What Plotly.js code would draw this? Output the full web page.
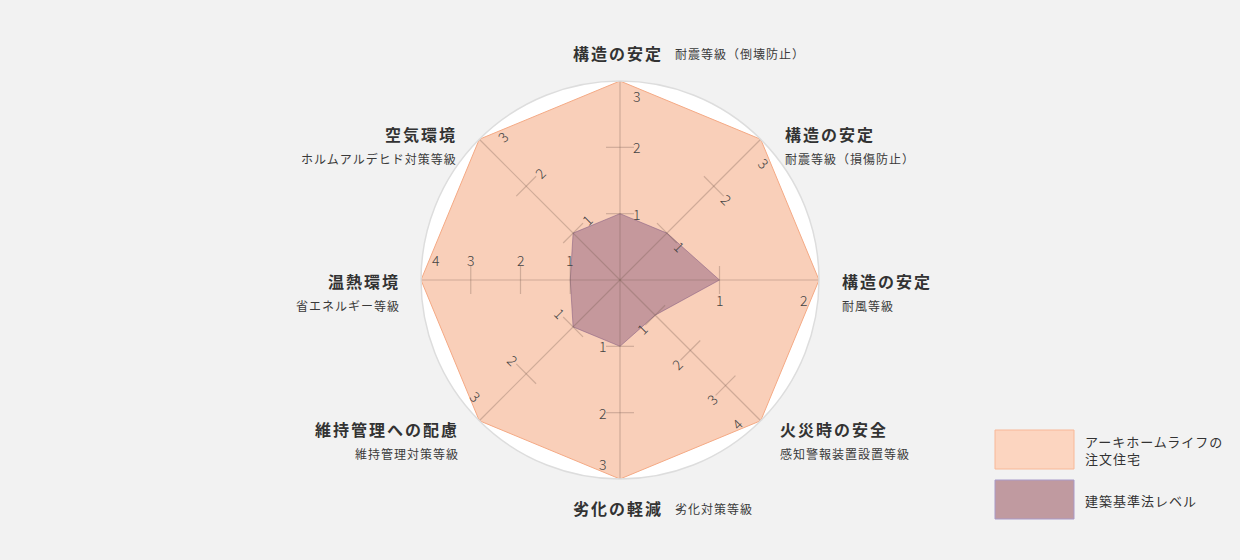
<!DOCTYPE html>
<html>
<head>
<meta charset="utf-8">
<script src="https://cdn.plot.ly/plotly-3.0.1.min.js"></script>
<style>
  html, body { margin: 0; padding: 0; background: #f2f2f2; }
  #chart { width: 1240px; height: 560px; }
</style>
</head>
<body>
<div id="chart"></div>
<script>
// ===== Data =====
const categories = ['倒壊防止', '損傷防止', '耐風', '感知警報', '劣化対策', '維持管理', '省エネ', 'ホルムアルデヒド'];
const titles = ['構造の安定', '構造の安定', '構造の安定', '火災時の安全', '劣化の軽減', '維持管理への配慮', '温熱環境', '空気環境'];
const subtitles = ['耐震等級（倒壊防止）', '耐震等級（損傷防止）', '耐風等級', '感知警報装置設置等級', '劣化対策等級', '維持管理対策等級', '省エネルギー等級', 'ホルムアルデヒド対策等級'];
const axisMax = [3, 3, 2, 4, 3, 3, 4, 3];
const customValues = [3, 3, 2, 4, 3, 3, 4, 3];   // アーキホームライフの注文住宅
const standardValues = [1, 1, 1, 1, 1, 1, 1, 1]; // 建築基準法レベル
const seriesNames = ['アーキホームライフの<br>注文住宅', '建築基準法レベル'];

// ===== Geometry (pixels) =====
const W = 1240, H = 560, CX = 620, CY = 280, R = 199;
const SPOKE = 'rgba(120,95,85,0.32)';
const FONT = '"Noto Sans CJK JP", "Noto Sans", sans-serif';

const bearing = i => i * 360 / categories.length;
const norm = (vals) => vals.map((v, i) => v / axisMax[i]);
const closeLoop = arr => arr.concat([arr[0]]);
const spaced = (txt, ls) => '<span style="letter-spacing:' + ls + 'px">' + txt + '</span>';

const traces = [];

// series fills
traces.push({
  type: 'scatterpolar', mode: 'lines', fill: 'toself',
  r: closeLoop(norm(customValues)), theta: closeLoop(categories),
  fillcolor: '#f9cfb9', line: { color: '#f4a984', width: 1 },
  hoverinfo: 'skip', showlegend: false,
});
traces.push({
  type: 'scatterpolar', mode: 'lines', fill: 'toself',
  r: closeLoop(norm(standardValues)), theta: closeLoop(categories),
  fillcolor: 'rgba(128,78,118,0.43)', line: { color: 'rgba(128,88,128,0.5)', width: 1 },
  hoverinfo: 'skip', showlegend: false,
});

// spokes drawn above the fills
const spokeR = [], spokeT = [];
categories.forEach(c => { spokeR.push(0, 1, null); spokeT.push(c, c, null); });
traces.push({
  type: 'scatterpolar', mode: 'lines', r: spokeR, theta: spokeT,
  line: { color: SPOKE, width: 1.2 }, hoverinfo: 'skip', showlegend: false, connectgaps: false,
});

// tick marks at each grade below the axis maximum
const tickR = [], tickT = [], tickA = [];
categories.forEach((c, i) => {
  for (let k = 1; k < axisMax[i]; k++) {
    tickR.push(k / axisMax[i]); tickT.push(c); tickA.push(bearing(i));
  }
});
traces.push({
  type: 'scatterpolar', mode: 'markers', r: tickR, theta: tickT,
  marker: { symbol: 'line-ew', size: 20, angle: tickA, line: { color: SPOKE, width: 1.2 } },
  hoverinfo: 'skip', showlegend: false,
});

// invisible cartesian trace so the overlay axes exist for tick-label annotations
traces.push({ type: 'scatter', x: [], y: [], xaxis: 'x', yaxis: 'y', showlegend: false, hoverinfo: 'skip' });

// ===== Annotations =====
const annotations = [];

// grade labels along each spoke
categories.forEach((c, i) => {
  const b = bearing(i) * Math.PI / 180;
  const sinB = Math.sin(b), cosB = Math.cos(b);
  const diag = (bearing(i) % 90) !== 0;
  const angle = diag ? ((bearing(i) % 180) === 45 ? 45 : -45) : 0;
  const d = 17 + 3 * Math.abs(sinB);
  for (let k = 1; k <= axisMax[i]; k++) {
    const r = k / axisMax[i];
    let sx = cosB * d, sy = sinB * d;           // clockwise perpendicular (screen)
    if (k === axisMax[i]) { sx += -sinB * 15; sy += cosB * 15; } // pull max label inward
    annotations.push({
      xref: 'x', yref: 'y', x: r * sinB, y: r * cosB,
      text: String(k), showarrow: false, textangle: angle,
      xshift: sx, yshift: -sy,
      font: { family: FONT, size: 14, color: '#444', weight: 300 },
    });
  }
});

// category labels: [x, y, anchor, layout] in pixels
const labelPos = [
  [665, 53, 'right', 'inline'],
  [783, 134, 'left', 'stack'],
  [840, 281, 'left', 'stack'],
  [778, 429, 'left', 'stack'],
  [665, 508, 'right', 'inline'],
  [461, 429, 'right', 'stack'],
  [402, 281, 'right', 'stack'],
  [459, 134, 'right', 'stack'],
];
const px = x => x / W, py = y => 1 - y / H;
labelPos.forEach(([x, y, anchor, mode], i) => {
  annotations.push({
    xref: 'paper', yref: 'paper', x: px(x), y: py(y), xanchor: anchor, yanchor: 'middle',
    text: '<b>' + spaced(titles[i], 2) + '</b>', showarrow: false,
    font: { family: FONT, size: 16, color: '#333' },
  });
  const sub = mode === 'inline'
    ? { x: px(x + 8), y: py(y), xanchor: 'left' }
    : { x: px(x), y: py(y + 24), xanchor: anchor };
  annotations.push({
    xref: 'paper', yref: 'paper', yanchor: 'middle', ...sub,
    text: spaced(subtitles[i], 1), showarrow: false,
    font: { family: FONT, size: 12, color: '#3a3a3a' },
  });
});

// custom legend
const legendFill = ['#fcd5c0', '#c09aa0'];
const legendLine = ['#f8b898', '#a99ac8'];
const legendY = [430, 480];
const shapes = [];
seriesNames.forEach((name, i) => {
  shapes.push({
    type: 'rect', xref: 'paper', yref: 'paper',
    x0: px(995), x1: px(1074), y0: py(legendY[i]), y1: py(legendY[i] + 39),
    fillcolor: legendFill[i], line: { color: legendLine[i], width: 1 },
  });
  annotations.push({
    xref: 'paper', yref: 'paper', x: px(1083), y: py(legendY[i] + 20),
    xanchor: 'left', yanchor: 'middle', align: 'left', showarrow: false,
    text: name.split('<br>').map(s => spaced(s, 1)).join('<br>'),
    font: { family: FONT, size: 13, color: '#333' },
  });
});

const dom = { x: [(CX - R) / W, (CX + R) / W], y: [1 - (CY + R) / H, 1 - (CY - R) / H] };

const layout = {
  width: W, height: H,
  paper_bgcolor: '#f2f2f2',
  plot_bgcolor: 'rgba(0,0,0,0)',
  margin: { l: 0, r: 0, t: 0, b: 0 },
  showlegend: false,
  polar: {
    domain: dom,
    bgcolor: '#ffffff',
    radialaxis: { range: [0, 1], visible: false, showgrid: false },
    angularaxis: {
      rotation: 90, direction: 'clockwise',
      showgrid: false, showticklabels: false, ticks: '',
      showline: true, linecolor: '#dddddd', linewidth: 1.5,
    },
  },
  xaxis: { domain: dom.x, range: [-1, 1], visible: false, fixedrange: true },
  yaxis: { domain: dom.y, range: [-1, 1], visible: false, fixedrange: true },
  annotations, shapes,
};

Plotly.newPlot('chart', traces, layout, { displayModeBar: false, staticPlot: true });
</script>
</body>
</html>
